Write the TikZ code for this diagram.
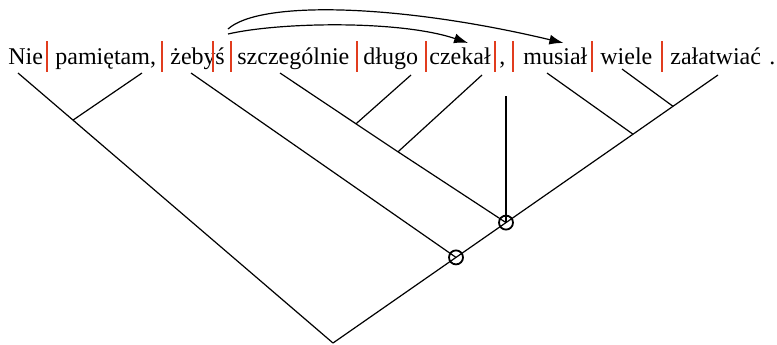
\documentclass[tikz,border=0pt]{standalone}
\usepackage{fontspec}
\setmainfont{Liberation Serif}
\usetikzlibrary{arrows.meta}
\definecolor{barred}{RGB}{225,60,30}
\tikzset{
  word/.style={anchor=base west,inner sep=0pt,font=\fontsize{12}{14}\selectfont},
  bar/.style={barred,line width=0.75pt},
  branch/.style={line width=0.6pt},
  link/.style={line width=0.6pt,-{Latex[length=7pt,width=5pt]}},
  ring/.style={circle,draw,line width=0.9pt,minimum size=7pt,inner sep=0pt}
}
\begin{document}
\begin{tikzpicture}[x=0.5pt,y=-0.5pt]
            \useasboundingbox (0,0) rectangle (777,344);
            \node[word] (nie) at (8,64) {Nie};
            \node[word] (pamietam) at (55,64) {pamiętam,};
            \node[word] (zeby) at (170,64) {żeby};
            \node[word] (s) at (215,64) {ś};
            \node[word] (szczegolnie) at (237,64) {szczególnie};
            \node[word] (dlugo) at (363,64) {długo};
            \node[word] (czekal) at (429,64) {czekał};
            \node[word] (comma) at (499,64) {,};
            \node[word] (musial) at (523,64) {musiał};
            \node[word] (wiele) at (600,64) {wiele};
            \node[word] (zalatwiac) at (670,64) {załatwiać};
            \node[word] (dot) at (769,64) {.};
            \foreach \x in {47,162,213,231,357,426,495,513,592,662}
                \draw[bar] (\x,41) -- (\x,72);
            \coordinate (t-nie) at (18,73);
            \coordinate (t-pam) at (142,73);
            \coordinate (t-zeb) at (191,73);
            \coordinate (t-szc) at (280,73);
            \coordinate (t-dlu) at (411,75);
            \coordinate (t-cze) at (482,75);
            \coordinate (t-com) at (506,96);
            \coordinate (t-mus) at (547,73);
            \coordinate (t-wie) at (622,69);
            \coordinate (t-zal) at (718,75);
            \coordinate (j-pam) at (73,120.1);
            \coordinate (j-dlu) at (356,123.8);
            \coordinate (j-cze) at (398,151.8);
            \coordinate (j-mus) at (633,134.2);
            \coordinate (j-wie) at (673,106.3);
            \coordinate (root) at (333,343);
            \node[ring] (c1) at (456,257.4) {};
            \node[ring] (c2) at (506,222.6) {};
            \draw[branch] (t-nie) -- (j-pam) -- (root);
            \draw[branch] (t-pam) -- (j-pam);
            \draw[branch] (root) -- (c1.center) -- (c2.center) -- (j-mus) -- (j-wie) -- (t-zal);
            \draw[branch] (t-zeb) -- (c1.center);
            \draw[branch] (t-szc) -- (j-dlu) -- (j-cze) -- (c2.center);
            \draw[branch] (t-dlu) -- (j-dlu);
            \draw[branch] (t-cze) -- (j-cze);
            \draw[branch] (t-com) -- (c2.center);
            \draw[branch] (t-mus) -- (j-mus);
            \draw[branch] (t-wie) -- (j-wie);
            \coordinate (a1) at (228,29);
            \coordinate (a2) at (228,34);
            \draw[link] (a1) .. controls (260,0) and (400,4) .. ([xshift=4pt,yshift=2pt]musial.north);
            \draw[link] (a2) .. controls (280,22) and (400,20) .. ([xshift=4pt,yshift=2pt]czekal.north);
        \end{tikzpicture}
\end{document}
